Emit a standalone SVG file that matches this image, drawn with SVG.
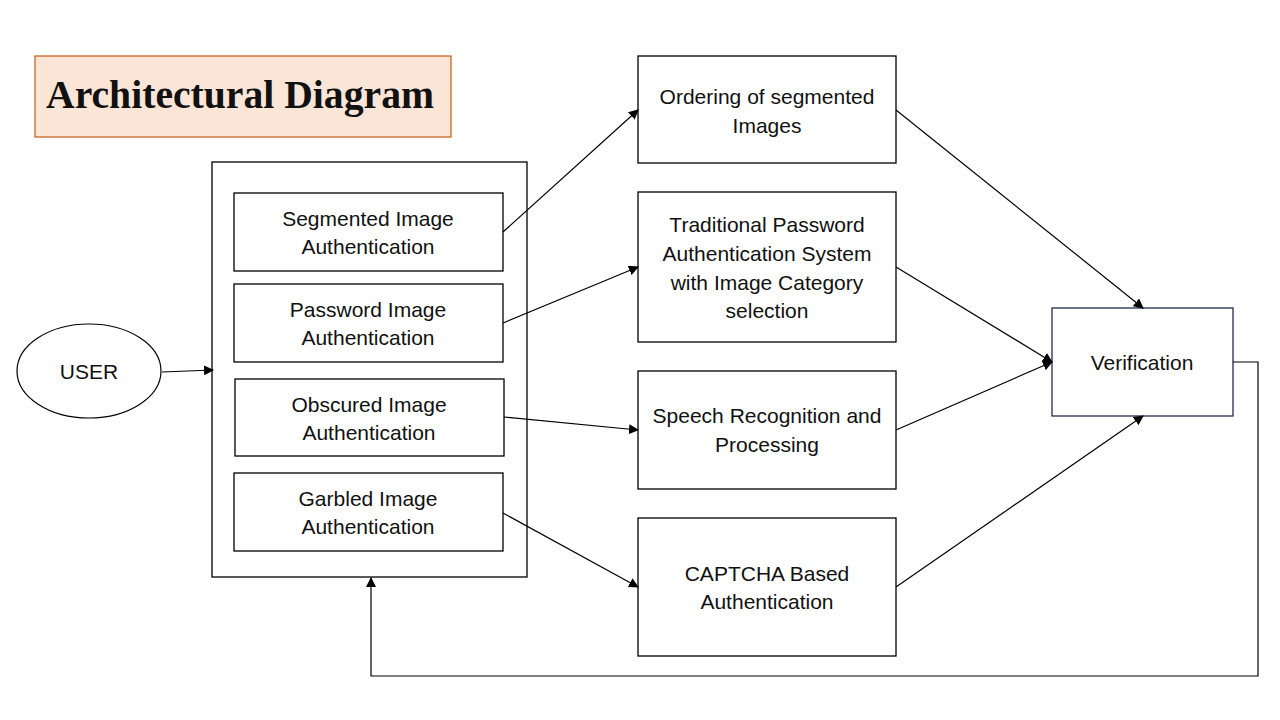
<svg xmlns="http://www.w3.org/2000/svg" width="1280" height="720" viewBox="0 0 1280 720">
<style>
.box{fill:#fff;stroke:#000;stroke-width:1.3}
.t{font-family:"Liberation Sans",Arial,sans-serif;font-size:21px;fill:#111;text-anchor:middle;dominant-baseline:central}
.c{fill:none;stroke:#000;stroke-width:1.2}
</style>
<defs>
<marker id="ah" viewBox="0 0 10 10" refX="9" refY="5" markerWidth="10" markerHeight="10" markerUnits="userSpaceOnUse" orient="auto">
<path d="M0,0 L10,5 L0,10 z" fill="#000"/>
</marker>
</defs>
<rect width="1280" height="720" fill="#fff"/>
<g id="title">
<rect x="35" y="56" width="416" height="81" fill="#FBE5D6" stroke="#C55A11" stroke-width="1.2"/>
<text x="46" y="108" font-family="'Liberation Serif',Georgia,serif" font-size="39" font-weight="bold" fill="#111" textLength="388" lengthAdjust="spacingAndGlyphs">Architectural Diagram</text>
</g>
<g id="user">
<ellipse cx="89" cy="371" rx="72" ry="47" fill="#fff" stroke="#000" stroke-width="1.2"/>
<text class="t" x="89" y="371">USER</text>
</g>
<g id="container">
<rect class="box" x="212" y="162" width="315" height="415"/>
</g>
<g id="segmented">
<rect class="box" x="234" y="193" width="269" height="78"/>
<text class="t" x="368" y="218">Segmented Image</text>
<text class="t" x="368" y="246">Authentication</text>
</g>
<g id="password">
<rect class="box" x="234" y="284" width="269" height="78"/>
<text class="t" x="368" y="309">Password Image</text>
<text class="t" x="368" y="337">Authentication</text>
</g>
<g id="obscured">
<rect class="box" x="235" y="379" width="269" height="77"/>
<text class="t" x="369" y="404">Obscured Image</text>
<text class="t" x="369" y="432">Authentication</text>
</g>
<g id="garbled">
<rect class="box" x="234" y="473" width="269" height="78"/>
<text class="t" x="368" y="498">Garbled Image</text>
<text class="t" x="368" y="526">Authentication</text>
</g>
<g id="ordering">
<rect class="box" x="638" y="56" width="258" height="107"/>
<text class="t" x="767" y="96">Ordering of segmented</text>
<text class="t" x="767" y="125">Images</text>
</g>
<g id="traditional">
<rect class="box" x="638" y="192" width="258" height="150"/>
<text class="t" x="767" y="224">Traditional Password</text>
<text class="t" x="767" y="253">Authentication System</text>
<text class="t" x="767" y="282">with Image Category</text>
<text class="t" x="767" y="310">selection</text>
</g>
<g id="speech">
<rect class="box" x="638" y="371" width="258" height="118"/>
<text class="t" x="767" y="415">Speech Recognition and</text>
<text class="t" x="767" y="444">Processing</text>
</g>
<g id="captcha">
<rect class="box" x="638" y="518" width="258" height="138"/>
<text class="t" x="767" y="573">CAPTCHA Based</text>
<text class="t" x="767" y="601">Authentication</text>
</g>
<g id="verification">
<rect x="1052" y="308" width="181" height="108" fill="#fff" stroke="#1F2D4F" stroke-width="1.3"/>
<text class="t" x="1142" y="362">Verification</text>
</g>
<g id="connectors">
<line class="c" x1="162" y1="372" x2="213" y2="370" marker-end="url(#ah)"/>
<line class="c" x1="503" y1="232" x2="638" y2="110" marker-end="url(#ah)"/>
<line class="c" x1="503" y1="323" x2="638" y2="267" marker-end="url(#ah)"/>
<line class="c" x1="504" y1="417" x2="638" y2="430" marker-end="url(#ah)"/>
<line class="c" x1="503" y1="513" x2="638" y2="587" marker-end="url(#ah)"/>
<line class="c" x1="896" y1="110" x2="1143" y2="308" marker-end="url(#ah)"/>
<line class="c" x1="896" y1="267" x2="1052" y2="362" marker-end="url(#ah)"/>
<line class="c" x1="896" y1="430" x2="1052" y2="362" marker-end="url(#ah)"/>
<line class="c" x1="896" y1="587" x2="1143" y2="416" marker-end="url(#ah)"/>
<polyline class="c" points="1233,362 1258,362 1258,676 371,676 371,578" marker-end="url(#ah)"/>
</g>
</svg>
